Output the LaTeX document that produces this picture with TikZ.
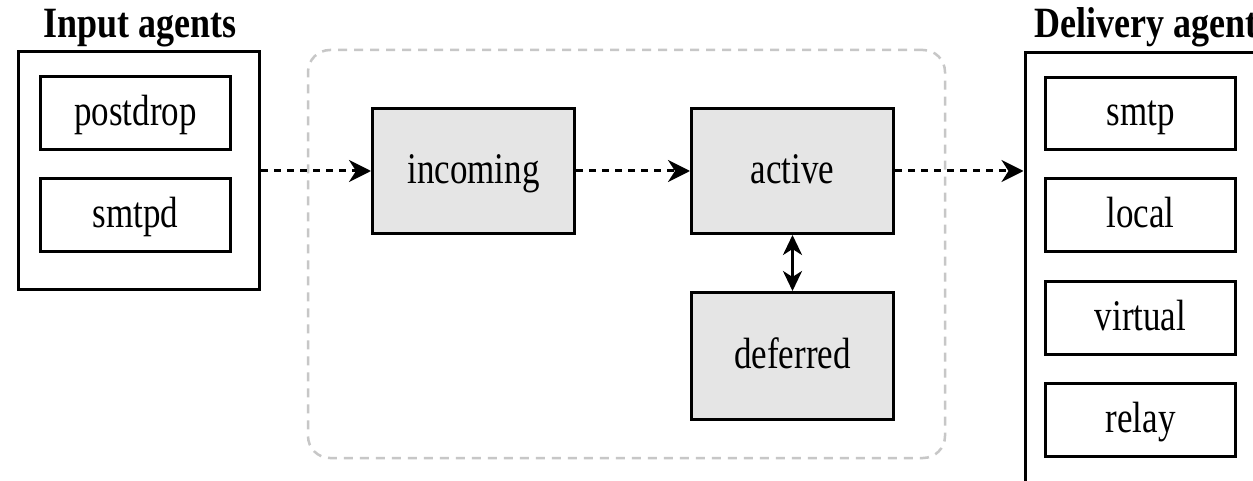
\documentclass[tikz,border=0pt]{standalone}
\usepackage{fontspec}
\setmainfont{Liberation Serif}
\usetikzlibrary{arrows.meta}
\newcommand\vstretch[1]{\scalebox{1}[1.25]{#1}}
\newcommand\tstretch[1]{\scalebox{1}[1.2]{#1}}
\begin{document}
\begin{tikzpicture}[x=1pt,y=-1pt,
  every node/.style={inner sep=0pt},
  txt/.style={font=\fontsize{35}{40}\selectfont,text height=25pt,text depth=0pt},
  ttl/.style={font=\fontsize{36}{40}\selectfont\bfseries},
  outerbox/.style={draw=black,line width=3pt,rectangle},
  agentbox/.style={draw=black,line width=3pt,rectangle,minimum width=190pt,minimum height=73pt,txt},
  queuebox/.style={draw=black,line width=3pt,rectangle,fill=black!10,minimum width=202pt,minimum height=125pt,txt},
  flow/.style={line width=3pt,dash pattern=on 7pt off 6pt,-{Stealth[length=22pt,width=22pt,inset=7pt]}},
  swap/.style={line width=3pt,{Stealth[length=20pt,width=19pt,inset=6pt]}-{Stealth[length=20pt,width=19pt,inset=6pt]}},
  queuearea/.style={draw=black!22,line width=2.5pt,dash pattern=on 9pt off 7pt,rounded corners=22pt,rectangle}
]
\clip (0,0) rectangle (1253,481);
\fill[white] (0,0) rectangle (1253,481);

% queue area
\node[queuearea,minimum width=637pt,minimum height=408pt] (qarea) at (626.5,254) {};

% input agents
\node[outerbox,minimum width=241pt,minimum height=238pt] (inbox) at (139,170.5) {};
\node[ttl,anchor=base] (intitle) at (140,38) {\tstretch{Input agents}};
\node[agentbox] (postdrop) at (135.5,113.5) {\vstretch{postdrop}};
\node[agentbox] (smtpd) at (135.5,215) {\vstretch{smtpd}};

% queues
\node[queuebox] (incoming) at (473.5,171) {\vstretch{incoming}};
\node[queuebox] (active) at (792.5,171) {\vstretch{active}};
\node[queuebox,minimum height=127pt] (deferred) at (792.5,356) {\vstretch{deferred}};

% delivery agents
\node[outerbox,minimum width=234pt,minimum height=520pt,anchor=north west] (dbox) at (1023.5,51.5) {};
\node[ttl,anchor=base west] (dtitle) at (1034,38) {\tstretch{Delivery agents}};
\node[agentbox,minimum height=72pt] (smtp) at (1140.5,113.5) {\vstretch{smtp}};
\node[agentbox] (local) at (1140.5,215) {\vstretch{local}};
\node[agentbox] (virtual) at (1140.5,317.5) {\vstretch{virtual}};
\node[agentbox] (relay) at (1140.5,420) {\vstretch{relay}};

% connectors
\draw[flow] (inbox.east |- incoming.west) -- (incoming.west);
\draw[flow] (incoming.east) -- (active.west);
\draw[flow] (active.east) -- (active.east -| dbox.west);
\draw[swap] (active.south) -- (deferred.north);
\end{tikzpicture}
\end{document}
